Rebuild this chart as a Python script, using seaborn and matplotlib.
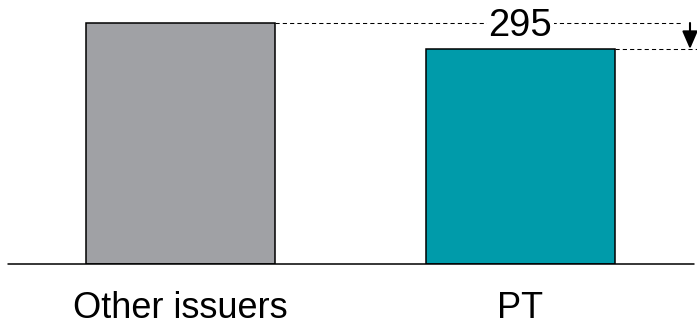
import matplotlib
matplotlib.use("Agg")
import matplotlib.pyplot as plt
import seaborn as sns
import pandas as pd

categories = ["Other issuers", "PT"]
values = [2735, 2440]
bar_colors = ["#A0A1A5", "#009BAA"]
diff_label = "295"

sns.set_style("white")
plt.rcParams["font.family"] = ["Liberation Sans", "DejaVu Sans"]

W, H = 697, 327
fig = plt.figure(figsize=(W / 100, H / 100), dpi=100)
base_px = 264  # baseline from top
ax = fig.add_axes([0, (H - base_px) / H, 1, base_px / H])

df = pd.DataFrame({"cat": categories, "val": values})
sns.barplot(data=df, x="cat", y="val", hue="cat", palette=bar_colors,
            legend=False, width=0.556, edgecolor="black", linewidth=1.1,
            saturation=1, ax=ax)

spacing = 340.0
c0 = 180.5
ax.set_xlim(-c0 / spacing, (W - c0) / spacing)
ax.set_ylim(0, values[0] * base_px / 241.0)

for s in ax.spines.values():
    s.set_visible(False)
ax.set_yticks([])
ax.set_xlabel("")
ax.set_ylabel("")
ax.tick_params(axis="x", length=0, labelsize=26, pad=19.5, colors="black")

ax.axhline(0, xmin=8 / W, xmax=694 / W, color="black", lw=1.1, clip_on=False)

half_w = 0.556 / 2
x_upper_end = (683 - c0) / spacing
x_arrow = (690 - c0) / spacing
x_lower_end = (W - c0) / spacing

dash = (0, (4, 3))
ax.plot([0 + half_w, x_upper_end], [values[0], values[0]], color="black",
        lw=0.75, linestyle=dash, clip_on=False)
ax.plot([1 + half_w, x_lower_end], [values[1], values[1]], color="black",
        lw=0.75, linestyle=dash, clip_on=False)

ax.annotate("", xy=(x_arrow, values[1]), xytext=(x_arrow, values[0]),
            arrowprops=dict(arrowstyle="-|>,head_length=1.08,head_width=0.47",
                            mutation_scale=10, lw=1.5, color="black",
                            shrinkA=0, shrinkB=0), annotation_clip=False)

ax.annotate(diff_label, xy=(1.0, values[0]), xytext=(0, -9.5),
            textcoords="offset points", ha="center", va="baseline",
            fontsize=27.5, color="black",
            bbox=dict(boxstyle="square,pad=0.05", fc="white", ec="none"))

fig.savefig("out.png", dpi=100)
